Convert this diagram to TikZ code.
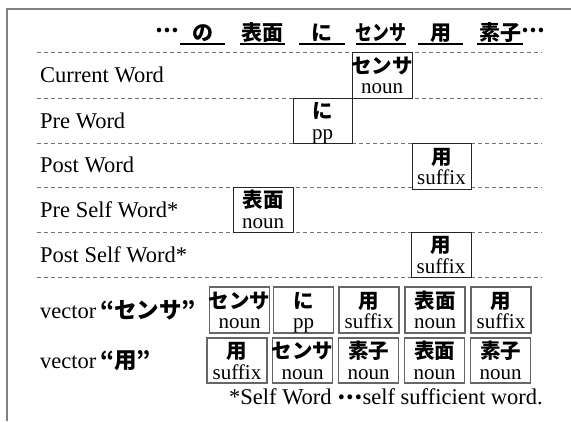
\documentclass[tikz,border=0pt]{standalone}
\usepackage{fontspec}
\usepackage{graphicx}
\setmainfont{Liberation Serif}
\newfontfamily\jp{Noto Sans CJK JP}
\newcommand\labfont{\fontsize{22.5}{24}\selectfont}
\newcommand\hdfont{\fontsize{21}{22}\selectfont\jp\bfseries}
\newcommand\jb[1]{{\jp\bfseries #1}}
\newcommand\mdots{\raisebox{6pt}{\jp\bfseries …}}
% \wordbox[style]{name}{x}{y}{jp}{en}
\newcommand\wordbox[6][wbox]{%
  \node[#1] (#2) at (#3,#4) {};
  \node[jpt] (#2j) at ([yshift=9.5pt]#2.center) {#5};
  \node[ent] (#2e) at ([yshift=-18.5pt]#2.center) {#6};}
\begin{document}
\begin{tikzpicture}[x=1pt,y=-1pt,
  frame/.style={draw=black!50, line width=1.3pt},
  sepline/.style={draw=black!55, dash pattern=on 4pt off 3pt, line width=0.9pt},
  wbox/.style={draw=black!85, line width=0.8pt, fill=white, minimum width=60pt, minimum height=46pt, inner sep=0pt},
  vbox/.style={wbox, draw=black!60, line width=1.4pt},
  jpt/.style={inner sep=0pt, text height=17pt, text depth=1.5pt, font=\fontsize{20.5}{20.5}\selectfont\jp\bfseries},
  ent/.style={inner sep=0pt, anchor=base, text height=14pt, text depth=4.5pt, font=\fontsize{21}{21}\selectfont},
  lab/.style={anchor=west, inner sep=0pt, font=\labfont},
  hword/.style={inner sep=0pt, minimum width=45pt, minimum height=22pt, font=\hdfont},
  uline/.style={draw=black, line width=1.5pt}]
\useasboundingbox (0,0) rectangle (571,421);
\draw[frame] (7,421) -- (7,9) -- (571,9);

% header
\node[inner sep=0pt, font=\hdfont] (dl) at (167,33) {\mdots};
\node[hword] (h1) at (202.5,33) {の};
\node[hword] (h2) at (262.5,33) {表面};
\node[hword] (h3) at (322,33) {に};
\node[hword] (h4) at (381,33) {\scalebox{0.8}[1]{センサ}};
\node[hword] (h5) at (440.5,33) {用};
\node[hword] (h6) at (500,33) {素子};
\node[inner sep=0pt, font=\hdfont, anchor=west] (dr) at ([xshift=-1pt]h6.east) {\mdots};
\foreach \h in {h1,h2,h3,h4,h5,h6} \draw[uline] (\h.south west) -- (\h.south east);

% separators
\foreach \y in {52,98,143,187,232,277} \draw[sepline] (37,\y) -- (542,\y);

% row labels
\node[lab] (l1) at (40,75) {Current Word};
\node[lab] (l2) at (40,120.5) {Pre Word};
\node[lab] (l3) at (40,165) {Post Word};
\node[lab] (l4) at (40,209.5) {Pre Self Word*};
\node[lab] (l5) at (40,254.5) {Post Self Word*};
\node[lab] (l6) at (40,310) {vector\,\jb{“センサ”}};
\node[lab] (l7) at (40,360.5) {vector\,\jb{“用”}};

% word boxes
\wordbox{cw}{382}{75}{センサ}{noun}
\wordbox[wbox, minimum width=59pt, minimum height=45pt]{pw}{322.5}{120.5}{に}{pp}
\wordbox[wbox, minimum width=59pt]{qw}{441.5}{166}{用}{suffix}
\wordbox[wbox, minimum height=45pt]{ps}{263}{209.5}{表面}{noun}
\wordbox[wbox, minimum height=45pt]{qs}{441}{254.5}{用}{suffix}

% vectors
\wordbox[vbox]{a1}{239.5}{310}{センサ}{noun}
\wordbox[vbox]{a2}{303.5}{310}{に}{pp}
\wordbox[vbox]{a3}{369}{310}{用}{suffix}
\wordbox[vbox]{a4}{435}{310}{表面}{noun}
\wordbox[vbox]{a5}{501}{310}{用}{suffix}
\wordbox[vbox, minimum height=45pt]{b1}{237}{360.5}{用}{suffix}
\wordbox[vbox, minimum height=45pt]{b2}{302.5}{360.5}{センサ}{noun}
\wordbox[vbox, minimum height=45pt]{b3}{368.5}{360.5}{素子}{noun}
\wordbox[vbox, minimum height=45pt]{b4}{434.5}{360.5}{表面}{noun}
\wordbox[vbox, minimum height=45pt]{b5}{500.5}{360.5}{素子}{noun}

% footnote
\node[lab, anchor=east] (fn) at (543,397) {*Self Word \raisebox{5pt}{\jb{…}}self sufficient word.};
\end{tikzpicture}
\end{document}
